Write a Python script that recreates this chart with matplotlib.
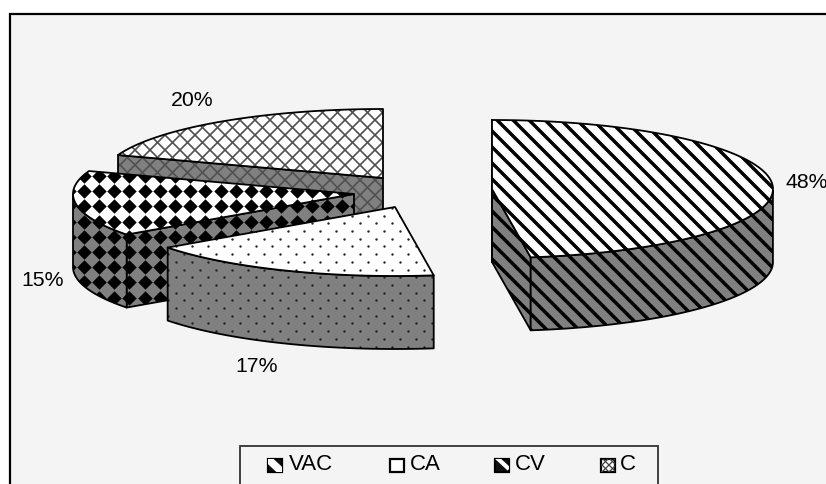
import numpy as np
import matplotlib
matplotlib.use("Agg")
import matplotlib.pyplot as plt
from matplotlib.patches import Polygon, Rectangle

categories = ["VAC", "CA", "CV", "C"]
values = [47.8, 17.2, 15.4, 19.6]

# layout, all in picture pixels
apex_x = [492, 395, 354, 383]
apex_y = [189, 207, 194, 178]
label_x = [786, 235, 21, 171]
label_y = [183, 367, 280, 100]
key_x = [268, 390, 495, 601]
text_x = [289, 410, 515, 620]
RX, RY, DEPTH = 281, 69, 73
WALL = "#808080"
BG = "#f4f4f4"

plt.rcParams["font.family"] = ["Liberation Sans", "DejaVu Sans"]

fig = plt.figure(figsize=(8.26, 4.84), dpi=100, facecolor="white")
ax = fig.add_axes([0, 0, 1, 1])
ax.set_xlim(0, 826)
ax.set_ylim(484, 0)
ax.axis("off")

ax.add_patch(Rectangle((10, 14), 830, 480, fc=BG, ec="black", lw=1.6, zorder=1))


def hatch_lines(clip, slope, period, lw, color, z, phase=0):
    # diagonal lines over the whole picture, cut to the shape
    for c in np.arange(-900 + phase, 1800, period):
        line, = ax.plot([0, 826], [c, c + slope * 826], color=color, lw=lw, zorder=z,
                        solid_capstyle="butt")
        line.set_clip_path(clip)


def texture(name, clip, z):
    if name == "VAC":
        hatch_lines(clip, 1, 16, 2.5, "black", z, phase=11)
    elif name == "CA":
        for i, y in enumerate(np.arange(0, 484, 7.7)):
            xs = np.arange(0 + 8 * (i % 2), 826, 16)
            dots = ax.scatter(xs, np.full(xs.shape, y), s=3, color="#222222", lw=0, zorder=z)
            dots.set_clip_path(clip)
    elif name == "CV":
        xs, ys = np.meshgrid(np.arange(7.8, 826, 15.2), np.arange(8.8, 484, 15.2))
        marks = ax.scatter(xs.ravel(), ys.ravel(), s=54, marker="D", color="black", lw=0, zorder=z)
        marks.set_clip_path(clip)
    else:
        hatch_lines(clip, 1, 15, 1.2, "#505050", z)
        hatch_lines(clip, -1, 15, 1.2, "#505050", z)


def shape(points, fill, name, z):
    poly = Polygon(points, closed=True, fc=fill, ec="none", zorder=z)
    ax.add_patch(poly)
    texture(name, poly, z + 0.1)
    edge = Polygon(points, closed=True, fc="none", ec="black", lw=1.3, zorder=z + 0.2,
                   joinstyle="round")
    ax.add_patch(edge)


starts = np.cumsum([0] + values[:-1]) / sum(values) * 2 * np.pi
ends = np.cumsum(values) / sum(values) * 2 * np.pi

# back slice first
order = [3, 2, 1, 0]
for n, i in enumerate(order):
    name = categories[i]
    ax0, ay0 = apex_x[i], apex_y[i]
    t = np.linspace(starts[i], ends[i], 80)
    rim = np.column_stack([ax0 + RX * np.sin(t), ay0 - RY * np.cos(t)])
    apex = np.array([[ax0, ay0]])
    down = np.array([0, DEPTH])
    z = 2 + n

    # side faces that look towards the viewer
    if name == "VAC":
        shape(np.vstack([apex, rim[-1:], rim[-1:] + down, apex + down]), WALL, name, z)
        shape(np.vstack([rim[:1], apex, apex + down]), WALL, name, z)
    elif name == "C" or name == "CV":
        shape(np.vstack([rim[:1], apex, apex + down, rim[:1] + down]), WALL, name, z)

    # outer wall, only the part that faces front
    front = rim[np.cos(t) < 0]
    if len(front) > 1:
        shape(np.vstack([front, (front + down)[::-1]]), WALL, name, z + 0.3)

    # top face
    shape(np.vstack([apex, rim]), "white", name, z + 0.6)

    ax.text(label_x[i], label_y[i], "%.0f%%" % values[i], fontsize=15.3, color="black",
            ha="left", va="center", zorder=20)

# legend
ax.add_patch(Rectangle((240, 446), 418, 60, fc=BG, ec="#333333", lw=1.3, zorder=21))
for i, name in enumerate(categories):
    key = Rectangle((key_x[i], 459), 14, 13, fc="white", ec="black", lw=1.6, zorder=22)
    ax.add_patch(key)
    if name == "VAC" or name == "CV":
        key.set_facecolor("#111111")
        # one wide pale band across the key
        shift, width = (0, 5.5) if name == "VAC" else (-3, 3)
        band, = ax.plot([key_x[i], key_x[i] + 14], [459 + shift, 472 + shift], color="white",
                        lw=width, zorder=22.5, solid_capstyle="butt")
        band.set_clip_path(key)
    elif name == "C":
        hatch_lines(key, 1, 7, 0.9, "#404040", 22.5)
        hatch_lines(key, -1, 7, 0.9, "#404040", 22.5)
    ax.text(text_x[i], 464, name, fontsize=16, ha="left", va="center", zorder=23)

fig.savefig("out.png", dpi=100, facecolor="white")
